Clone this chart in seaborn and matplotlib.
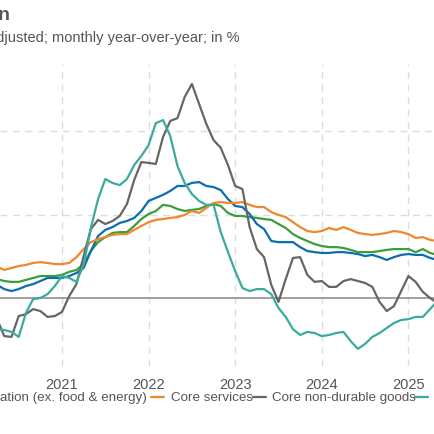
import numpy as np
import pandas as pd
import matplotlib
matplotlib.use("Agg")
import matplotlib.pyplot as plt
import seaborn as sns
from matplotlib.lines import Line2D

# monthly, Apr 2020 .. May 2025
start_year = 2020.25
core = [0.47,0.32,0.25,0.32,0.43,0.50,0.61,0.72,0.72,0.72,0.79,0.90,1.08,1.69,2.23,2.45,2.55,2.70,2.77,2.88,3.13,3.49,3.60,3.71,3.85,4.03,4.03,4.14,4.17,4.03,3.99,3.88,3.56,3.31,3.27,3.02,2.66,2.48,2.05,2.01,2.01,2.01,1.83,1.69,1.65,1.62,1.62,1.65,1.65,1.62,1.58,1.51,1.55,1.47,1.37,1.47,1.55,1.58,1.55,1.55,1.44,1.37]
services = [1.12,1.01,1.08,1.15,1.19,1.26,1.29,1.26,1.22,1.22,1.26,1.47,1.76,2.01,2.12,2.19,2.27,2.30,2.30,2.45,2.59,2.73,2.81,2.84,2.88,2.91,2.99,3.13,3.06,3.24,3.42,3.45,3.42,3.42,3.45,3.35,3.27,3.27,3.09,2.99,2.91,2.73,2.55,2.41,2.37,2.41,2.52,2.45,2.55,2.45,2.34,2.30,2.27,2.30,2.34,2.41,2.37,2.30,2.16,2.19,2.09,2.05]
nondurable = [-0.76,-1.37,-1.40,-0.65,-0.58,-0.40,-0.47,-0.68,-0.65,-0.50,0.07,0.50,1.51,2.48,2.81,2.66,2.77,2.95,3.38,4.24,4.89,4.86,4.82,5.79,6.37,6.47,7.23,7.70,6.98,6.26,5.68,5.40,4.78,4.03,3.92,2.55,1.76,1.47,0.47,-0.14,0.68,1.44,1.47,0.83,0.58,0.61,0.40,0.40,0.61,0.68,0.61,0.54,0.40,-0.14,-0.47,-0.29,0.25,0.79,0.58,0.22,0.00,-0.18]
durable = [-1.12,-1.15,-1.22,-1.40,-0.54,-0.04,0.00,0.14,0.43,0.79,0.72,0.58,1.19,2.52,3.56,4.28,4.14,4.06,4.28,4.78,5.11,5.50,6.29,6.40,5.83,4.75,4.14,3.74,3.49,3.35,3.35,2.37,1.65,0.97,0.36,0.25,0.32,0.32,0.14,-0.36,-0.68,-1.12,-1.33,-1.22,-1.26,-1.37,-1.33,-1.26,-1.22,-1.55,-1.83,-1.65,-1.40,-1.26,-1.08,-0.90,-0.79,-0.76,-0.68,-0.68,-0.40,-0.11]
headline = [0.68,0.61,0.58,0.58,0.65,0.72,0.79,0.79,0.79,0.83,0.94,1.01,1.22,1.69,2.01,2.19,2.34,2.37,2.37,2.59,2.84,3.02,3.13,3.35,3.31,3.20,3.13,3.17,3.20,3.31,3.38,3.31,3.06,2.95,2.95,2.91,2.88,2.84,2.81,2.66,2.52,2.30,2.16,2.05,1.94,1.87,1.83,1.83,1.80,1.73,1.65,1.65,1.65,1.69,1.73,1.76,1.76,1.76,1.65,1.76,1.62,1.55]

names = ["Headline inflation", "Core inflation (ex. food & energy)", "Core services",
         "Core non-durable goods", "Core durable goods"]
colors = ["#3b9e3b", "#0d6eaf", "#f0872f", "#666666", "#3aab9c"]
series = [headline, core, services, nondurable, durable]

t = start_year + np.arange(len(core)) / 12
df = pd.concat([pd.DataFrame({"t": t, "v": s, "series": n}) for n, s in zip(names, series)])

sns.set_style("white")
plt.rcParams["font.family"] = ["Liberation Sans", "DejaVu Sans"]

fig = plt.figure(figsize=(4.35, 4.35), dpi=100)
W = H = 435
ax = fig.add_axes([0, 1 - 367 / H, 1, 302 / H])
x0 = 2021 - 62 / 86.6
ax.set_xlim(x0, x0 + 435 / 86.6)
ax.set_ylim((299 - 367) / 27.8, (299 - 65) / 27.8)

for yv in [3, 6]:
    ax.axhline(yv, color="#dddddd", lw=1, ls=(0, (5, 4)), zorder=0)
for yr in range(2021, 2026):
    ax.axvline(yr, color="#dddddd", lw=1, ls=(0, (5, 4)), zorder=0)
ax.axhline(0, color="#9a9a9a", lw=1.3, zorder=1)

sns.lineplot(data=df, x="t", y="v", hue="series", palette=dict(zip(names, colors)),
             hue_order=names, lw=1.6, ax=ax, legend=False, zorder=3)

for s in ax.spines.values():
    s.set_visible(False)
ax.set_yticks([])
ax.set_xticks(range(2021, 2026))
ax.set_xticklabels([str(y) for y in range(2021, 2026)])
ax.tick_params(axis="x", length=0, pad=8, labelsize=10.5, labelcolor="#555555")
ax.set_xlabel("")
ax.set_ylabel("")

# title / subtitle (cropped at left like the reference)
fig.text(11 / W, 1 - 15 / H, "Inflation", ha="right", va="center", fontsize=14,
         fontweight="bold", color="#555555")
fig.text(240 / W, 1 - 38 / H, "Seasonally adjusted; monthly year-over-year; in %",
         ha="right", va="center", fontsize=10.5, color="#555555")

# legend row
ly = 1 - 398 / H
fs = 9.6
fig.text(147 / W, ly, "Core inflation (ex. food & energy)", ha="right", va="center",
         fontsize=fs, color="#555555")
entries = [(151, 171, names[2], colors[2]), (253, 272, names[3], colors[3]),
           (415, 434, names[4], colors[4])]
for lx, tx, n, c in entries:
    fig.add_artist(Line2D([lx / W, (lx + 13) / W], [ly, ly], color=c, lw=1.6,
                          transform=fig.transFigure))
    fig.text(tx / W, ly, n, ha="left", va="center", fontsize=fs, color="#555555")

fig.savefig("out.png", dpi=100)
